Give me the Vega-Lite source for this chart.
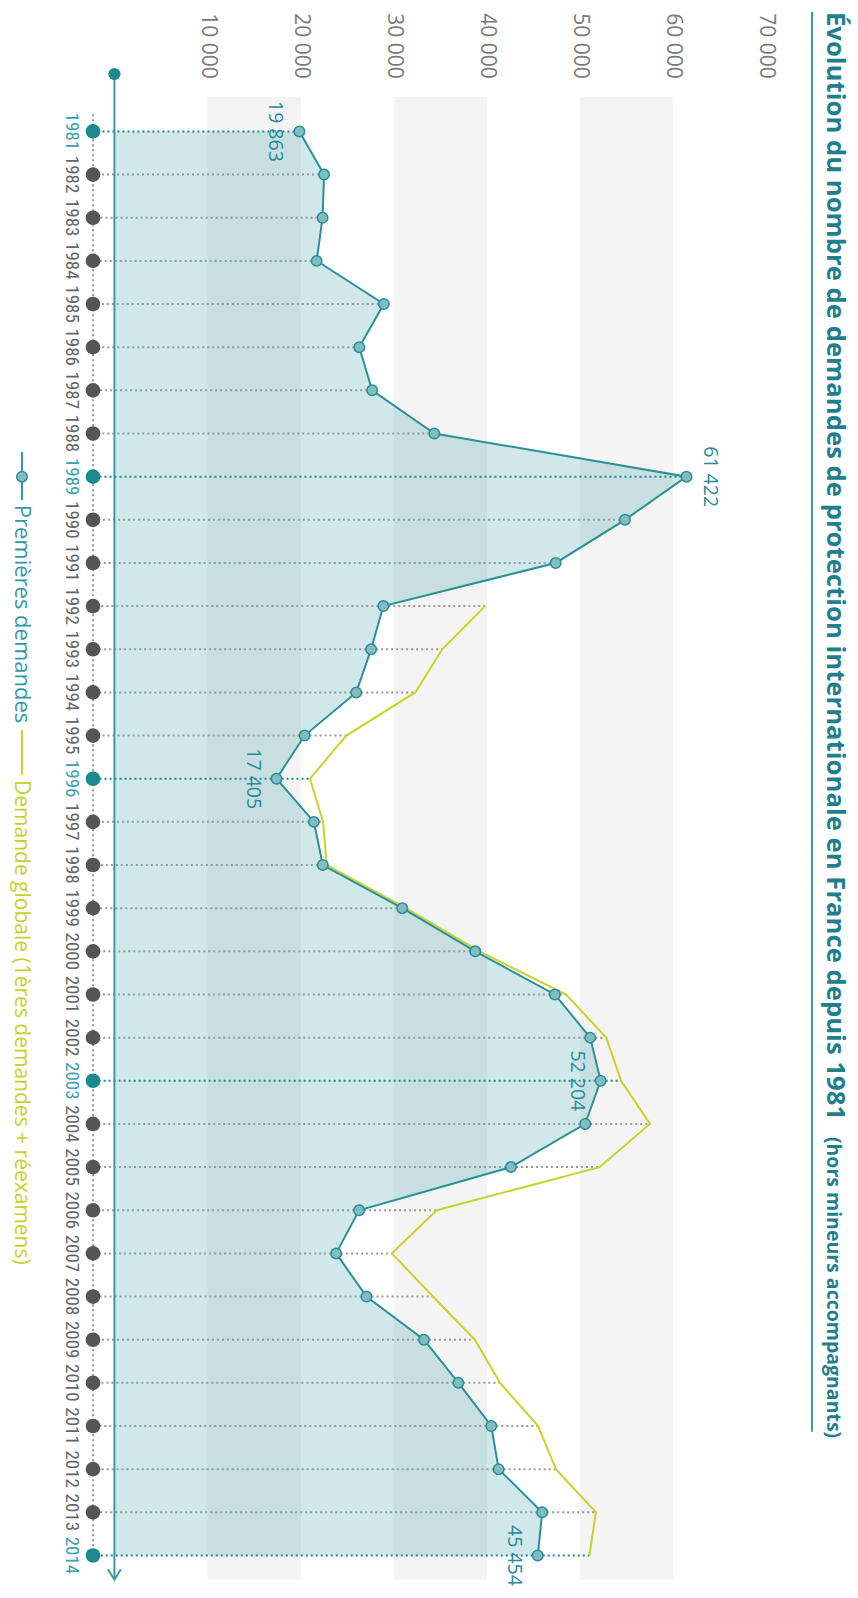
{
  "$schema": "https://vega.github.io/schema/vega-lite/v6.json",
  "autosize": {"type": "none"},
  "width": 692,
  "height": 1519,
  "padding": {"left": 93, "top": 71, "right": 73, "bottom": 8},
  "background": "white",
  "config": {
    "view": {"stroke": null},
    "font": "Open Sans",
    "locale": {"number": {"decimal": ",", "thousands": " ", "grouping": [3], "currency": ["", " €"]}}
  },
  "datasets": {
    "main": [
      {"year": 1981, "first": 19863},
      {"year": 1982, "first": 22505},
      {"year": 1983, "first": 22350},
      {"year": 1984, "first": 21714},
      {"year": 1985, "first": 28925},
      {"year": 1986, "first": 26290},
      {"year": 1987, "first": 27672},
      {"year": 1988, "first": 34352},
      {"year": 1989, "first": 61422},
      {"year": 1990, "first": 54813},
      {"year": 1991, "first": 47380},
      {"year": 1992, "first": 28872, "global": 39800},
      {"year": 1993, "first": 27564, "global": 35200},
      {"year": 1994, "first": 25964, "global": 32300},
      {"year": 1995, "first": 20415, "global": 24900},
      {"year": 1996, "first": 17405, "global": 21000},
      {"year": 1997, "first": 21416, "global": 22400},
      {"year": 1998, "first": 22375, "global": 22800},
      {"year": 1999, "first": 30907, "global": 31300},
      {"year": 2000, "first": 38747, "global": 39200},
      {"year": 2001, "first": 47291, "global": 48500},
      {"year": 2002, "first": 51087, "global": 52800},
      {"year": 2003, "first": 52204, "global": 54400},
      {"year": 2004, "first": 50547, "global": 57500},
      {"year": 2005, "first": 42578, "global": 52100},
      {"year": 2006, "first": 26269, "global": 34600},
      {"year": 2007, "first": 23804, "global": 29800},
      {"year": 2008, "first": 27063, "global": 34200},
      {"year": 2009, "first": 33235, "global": 38700},
      {"year": 2010, "first": 36931, "global": 41400},
      {"year": 2011, "first": 40464, "global": 45500},
      {"year": 2012, "first": 41254, "global": 47400},
      {"year": 2013, "first": 45925, "global": 51700},
      {"year": 2014, "first": 45454, "global": 51000}
    ],
    "bands": [
      {"from": 10000, "to": 20000},
      {"from": 30000, "to": 40000},
      {"from": 50000, "to": 60000}
    ],
    "ticks": [
      {"v": 10000}, {"v": 20000}, {"v": 30000}, {"v": 40000}, {"v": 50000}, {"v": 60000}, {"v": 70000}
    ],
    "one": [{}]
  },
  "data": {"name": "main"},
  "layer": [
    {
      "data": {"name": "bands"},
      "mark": {"type": "rect", "color": "#f4f4f4"},
      "encoding": {
        "x": {"field": "from", "type": "quantitative", "scale": {"domain": [-2300, 72000], "nice": false, "zero": false}, "axis": null},
        "x2": {"field": "to"},
        "y": {"datum": 1980.2, "type": "quantitative", "scale": {"domain": [1979.6, 2014.8], "reverse": true, "nice": false, "zero": false}, "axis": null},
        "y2": {"datum": 2014.56}
      }
    },
    {
      "mark": {"type": "area", "orient": "horizontal", "color": "#1a8a94", "fillOpacity": 0.2},
      "encoding": {
        "x": {"field": "first", "type": "quantitative", "stack": null, "axis": null},
        "x2": {"datum": 0},
        "y": {"field": "year", "type": "quantitative", "axis": null}
      }
    },
    {
      "data": {"name": "ticks"},
      "mark": {"type": "text", "angle": 90, "align": "right", "baseline": "middle", "fontSize": 21, "color": "#7a7a7a"},
      "encoding": {
        "x": {"field": "v", "type": "quantitative", "axis": null},
        "y": {"datum": 1979.78, "type": "quantitative", "axis": null},
        "text": {"field": "v", "type": "quantitative", "format": ","}
      }
    },
    {
      "mark": {"type": "text", "angle": 90, "align": "center", "baseline": "alphabetic", "fontSize": 19, "font": "Liberation Sans Narrow, Roboto Condensed, Open Sans"},
      "encoding": {
        "x": {"datum": -5200, "type": "quantitative", "axis": null},
        "y": {"field": "year", "type": "quantitative", "axis": null},
        "text": {"field": "year", "type": "quantitative", "format": "d"},
        "color": {"condition": {"test": "indexof([1981,1989,1996,2003,2014], datum.year) >= 0", "value": "#3aa0b2"}, "value": "#666666"}
      }
    },
    {
      "mark": {"type": "rule", "strokeDash": [2, 3], "strokeWidth": 2},
      "encoding": {
        "x": {"field": "first", "type": "quantitative", "axis": null},
        "x2": {"datum": -2300},
        "y": {"field": "year", "type": "quantitative", "axis": null},
        "color": {"condition": {"test": "indexof([1981,1989,1996,2003,2014], datum.year) >= 0", "value": "#1a8a8f"}, "value": "#999999"}
      }
    },
    {
      "transform": [{"filter": "isValid(datum.global)"}],
      "mark": {"type": "rule", "strokeDash": [2, 3], "strokeWidth": 2},
      "encoding": {
        "x": {"field": "first", "type": "quantitative", "axis": null},
        "x2": {"field": "global"},
        "y": {"field": "year", "type": "quantitative", "axis": null},
        "color": {"condition": {"test": "indexof([1981,1989,1996,2003,2014], datum.year) >= 0", "value": "#1a8a8f"}, "value": "#999999"}
      }
    },
    {
      "data": {"name": "one"},
      "mark": {"type": "rule", "strokeDash": [2, 3], "strokeWidth": 2, "color": "#999999"},
      "encoding": {
        "x": {"datum": -2300, "type": "quantitative", "axis": null},
        "y": {"datum": 1980.6, "type": "quantitative", "axis": null},
        "y2": {"datum": 2014}
      }
    },
    {
      "data": {"name": "one"},
      "mark": {"type": "rule", "strokeWidth": 2, "color": "#3a9aa5"},
      "encoding": {
        "x": {"datum": 0, "type": "quantitative", "axis": null},
        "y": {"datum": 1979.67, "type": "quantitative", "axis": null},
        "y2": {"datum": 2014.52}
      }
    },
    {
      "data": {"name": "one"},
      "mark": {"type": "point", "filled": true, "opacity": 1, "size": 150, "color": "#1a8a8f"},
      "encoding": {
        "x": {"datum": 0, "type": "quantitative", "axis": null},
        "y": {"datum": 1979.67, "type": "quantitative", "axis": null}
      }
    },
    {
      "data": {"name": "one"},
      "mark": {"type": "point", "shape": "M-1,-0.8L0,0.8L1,-0.8", "filled": false, "opacity": 1, "size": 169, "strokeWidth": 2, "color": "#3a9aa5"},
      "encoding": {
        "x": {"datum": 0, "type": "quantitative", "axis": null},
        "y": {"datum": 2014.44, "type": "quantitative", "axis": null}
      }
    },
    {
      "transform": [{"filter": "isValid(datum.global)"}],
      "mark": {"type": "line", "color": "#c8d42a", "strokeWidth": 2},
      "encoding": {
        "x": {"field": "global", "type": "quantitative", "axis": null},
        "y": {"field": "year", "type": "quantitative", "axis": null},
        "order": {"field": "year", "type": "quantitative"}
      }
    },
    {
      "mark": {"type": "line", "color": "#2a9198", "strokeWidth": 2},
      "encoding": {
        "x": {"field": "first", "type": "quantitative", "axis": null},
        "y": {"field": "year", "type": "quantitative", "axis": null},
        "order": {"field": "year", "type": "quantitative"}
      }
    },
    {
      "mark": {"type": "point", "filled": true, "opacity": 1, "size": 110, "fill": "#80bcc2", "stroke": "#2a8f96", "strokeWidth": 1.5},
      "encoding": {
        "x": {"field": "first", "type": "quantitative", "axis": null},
        "y": {"field": "year", "type": "quantitative", "axis": null}
      }
    },
    {
      "mark": {"type": "point", "filled": true, "opacity": 1, "size": 215},
      "encoding": {
        "x": {"datum": -2300, "type": "quantitative", "axis": null},
        "y": {"field": "year", "type": "quantitative", "axis": null},
        "color": {"condition": {"test": "indexof([1981,1989,1996,2003,2014], datum.year) >= 0", "value": "#1a8a8f"}, "value": "#555555"}
      }
    },
    {
      "transform": [{"filter": "indexof([1981,1996,2003,2014], datum.year) >= 0"}],
      "mark": {"type": "text", "angle": 90, "align": "center", "baseline": "middle", "dy": 24, "fontSize": 19.5, "color": "#2a8c97"},
      "encoding": {
        "x": {"field": "first", "type": "quantitative", "axis": null},
        "y": {"field": "year", "type": "quantitative", "axis": null},
        "text": {"field": "first", "type": "quantitative", "format": ","}
      }
    },
    {
      "transform": [{"filter": "datum.year == 1989"}],
      "mark": {"type": "text", "angle": 90, "align": "center", "baseline": "middle", "dy": -24, "fontSize": 19.5, "color": "#2a8c97"},
      "encoding": {
        "x": {"field": "first", "type": "quantitative", "axis": null},
        "y": {"field": "year", "type": "quantitative", "axis": null},
        "text": {"field": "first", "type": "quantitative", "format": ","}
      }
    },
    {
      "data": {"name": "one"},
      "mark": {"type": "rule", "strokeWidth": 2, "color": "#3a9aa5"},
      "encoding": {
        "x": {"datum": -9925, "type": "quantitative", "axis": null},
        "y": {"datum": 1988.43, "type": "quantitative", "axis": null},
        "y2": {"datum": 1989.54}
      }
    },
    {
      "data": {"name": "one"},
      "mark": {"type": "point", "filled": true, "opacity": 1, "size": 110, "fill": "#80bcc2", "stroke": "#2a8f96", "strokeWidth": 1.5},
      "encoding": {
        "x": {"datum": -9925, "type": "quantitative", "axis": null},
        "y": {"datum": 1989.0, "type": "quantitative", "axis": null}
      }
    },
    {
      "data": {"name": "one"},
      "mark": {"type": "text", "angle": 90, "align": "left", "baseline": "alphabetic", "fontSize": 22, "color": "#3399a8", "text": "Premières demandes"},
      "encoding": {
        "x": {"datum": -10676, "type": "quantitative", "axis": null},
        "y": {"datum": 1989.65, "type": "quantitative", "axis": null}
      }
    },
    {
      "data": {"name": "one"},
      "mark": {"type": "rule", "strokeWidth": 2, "color": "#c8d42a"},
      "encoding": {
        "x": {"datum": -9925, "type": "quantitative", "axis": null},
        "y": {"datum": 1994.87, "type": "quantitative", "axis": null},
        "y2": {"datum": 1995.91}
      }
    },
    {
      "data": {"name": "one"},
      "mark": {"type": "text", "angle": 90, "align": "left", "baseline": "alphabetic", "fontSize": 21, "color": "#c5d22b", "text": "Demande globale (1ères demandes + réexamens)"},
      "encoding": {
        "x": {"datum": -10676, "type": "quantitative", "axis": null},
        "y": {"datum": 1996.03, "type": "quantitative", "axis": null}
      }
    },
    {
      "data": {"name": "one"},
      "mark": {"type": "rule", "strokeWidth": 2, "color": "#3a9aa5"},
      "encoding": {
        "x": {"datum": 74900, "type": "quantitative", "axis": null},
        "y": {"datum": 1978.23, "type": "quantitative", "axis": null},
        "y2": {"datum": 2011.13}
      }
    },
    {
      "data": {"name": "one"},
      "mark": {"type": "text", "angle": 90, "align": "left", "baseline": "alphabetic", "fontSize": 25.7, "fontWeight": "bold", "color": "#1f7f8c", "text": "Évolution du nombre de demandes de protection internationale en France depuis 1981"},
      "encoding": {
        "x": {"datum": 76555, "type": "quantitative", "axis": null},
        "y": {"datum": 1978.23, "type": "quantitative", "axis": null}
      }
    },
    {
      "data": {"name": "one"},
      "mark": {"type": "text", "angle": 90, "align": "left", "baseline": "alphabetic", "fontSize": 19.5, "fontWeight": "bold", "color": "#1f7f8c", "text": "(hors mineurs accompagnants)"},
      "encoding": {
        "x": {"datum": 76555, "type": "quantitative", "axis": null},
        "y": {"datum": 2004.3, "type": "quantitative", "axis": null}
      }
    }
  ]
}
